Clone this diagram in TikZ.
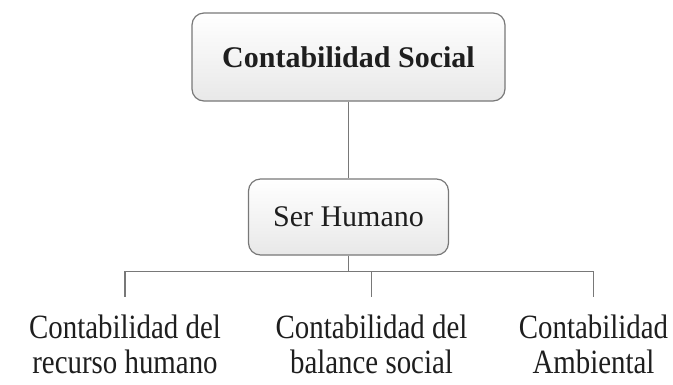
\documentclass[tikz,border=0pt]{standalone}
\usepackage{fontspec}
\setmainfont{Liberation Serif}
\newfontfamily\narrowserif{Liberation Serif}[FakeStretch=0.85]
\usetikzlibrary{positioning}
\definecolor{linegray}{RGB}{120,120,120}
\definecolor{inkgray}{RGB}{30,30,30}

\begin{document}
\begin{tikzpicture}[x=1pt,y=-1pt,
  box/.style={draw=linegray,line width=1.2pt,rounded corners=12pt,top color=white,bottom color=black!9,text=inkgray},
  leaf/.style={anchor=north,align=center,inner xsep=0pt,inner ysep=18pt,text=inkgray,font=\narrowserif\fontsize{34}{35}\selectfont},
  link/.style={draw=linegray,line width=1.2pt}]
\useasboundingbox (0,0) rectangle (673,384);
%boxes
\node[box,minimum width=313pt,minimum height=88pt,font=\bfseries\fontsize{30}{36}\selectfont] (social) at (348.5,57) {Contabilidad Social};
\node[box,minimum width=200pt,minimum height=76pt,font=\fontsize{30}{36}\selectfont] (humano) at (348.5,217) {Ser Humano};
%leaves
\node[leaf] (recurso) at (125,297) {Contabilidad del\\recurso humano};
\node[leaf] (balance) at (371.5,297) {Contabilidad del\\balance social};
\node[leaf] (ambiental) at (593.5,297) {Contabilidad\\Ambiental};
%connectors
\coordinate[below=16pt of humano.south] (bus);
\draw[link] (social) -- (humano);
\draw[link] (humano) -- (bus);
\draw[link] (bus) -| (recurso); \draw[link] (bus) -| (balance); \draw[link] (bus) -| (ambiental);
\end{tikzpicture}
\end{document}
